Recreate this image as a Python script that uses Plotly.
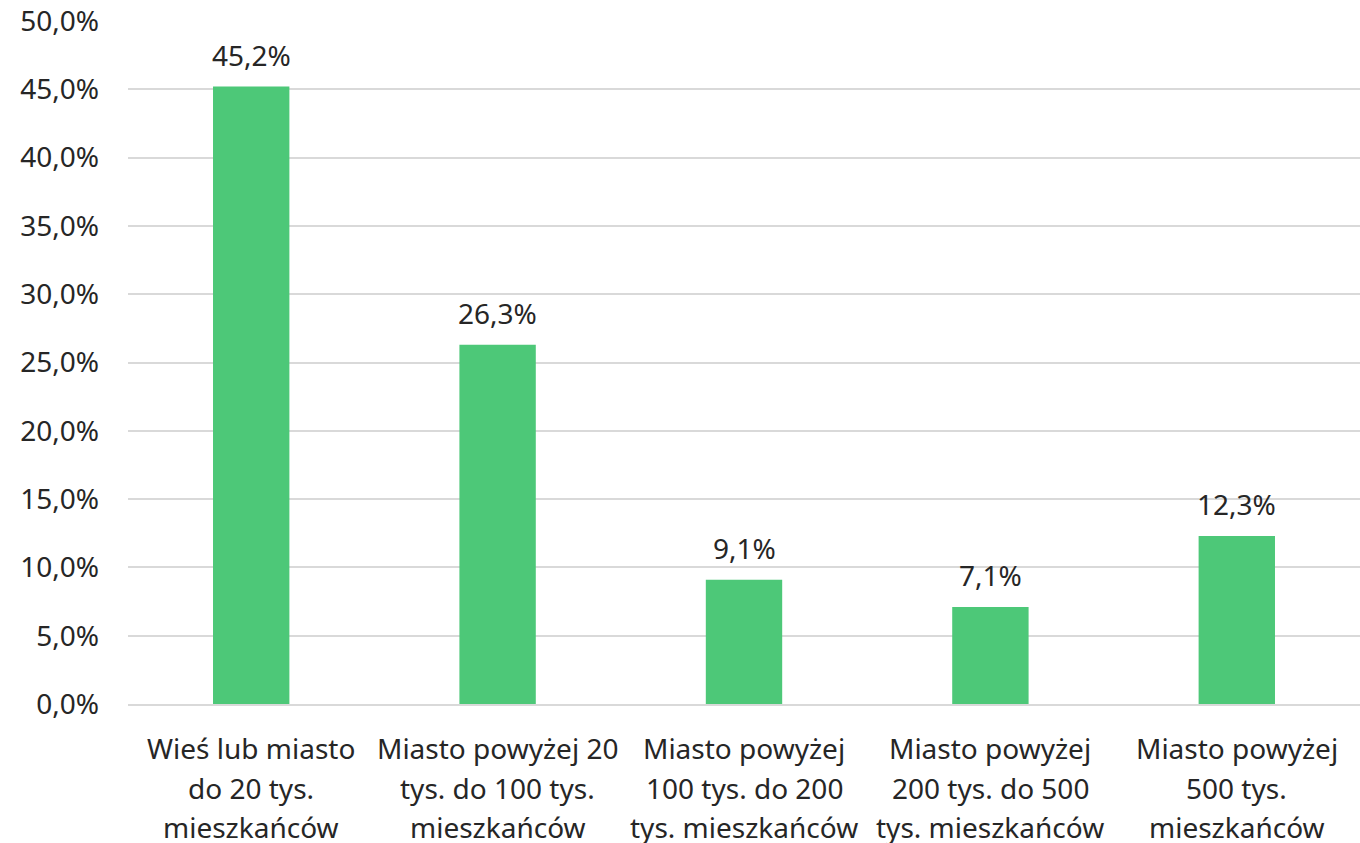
import plotly.graph_objects as go

categories = [
    "Wieś lub miasto<br>do 20 tys.<br>mieszkańców",
    "Miasto powyżej 20<br>tys. do 100 tys.<br>mieszkańców",
    "Miasto powyżej<br>100 tys. do 200<br>tys. mieszkańców",
    "Miasto powyżej<br>200 tys. do 500<br>tys. mieszkańców",
    "Miasto powyżej<br>500 tys.<br>mieszkańców",
]
values = [45.2, 26.3, 9.1, 7.1, 12.3]
y_ticks = [0, 5, 10, 15, 20, 25, 30, 35, 40, 45, 50]

FONT = "Noto Sans"
FS = 28
TXT = "#262626"

fig = go.Figure()
fig.add_trace(go.Bar(x=categories, y=values, marker_color="#4DC878",
                     marker_line_width=0, hoverinfo="skip"))

annotations = []
for c, v in zip(categories, values):
    annotations.append(dict(x=c, y=v, xref="x", yref="y", yanchor="middle",
                            yshift=32, showarrow=False,
                            text=f"{v:.1f}".replace(".", ",") + "%",
                            font=dict(family=FONT, size=FS, color=TXT)))
    for i, line in enumerate(c.split("<br>")):
        annotations.append(dict(x=c, y=0, xref="x", yref="y", yanchor="middle",
                                yshift=-(44 + 39.5 * i), showarrow=False,
                                text=line,
                                font=dict(family=FONT, size=FS, color=TXT)))

fig.update_layout(
    width=1360, height=843,
    margin=dict(l=128, r=0, t=21, b=139, autoexpand=False),
    paper_bgcolor="white", plot_bgcolor="white",
    separators=", ",
    bargap=0.69,
    showlegend=False,
    annotations=annotations,
    font=dict(family=FONT, size=FS, color=TXT),
    xaxis=dict(showticklabels=False, showgrid=False, showline=True,
               linecolor="#d9d9d9", linewidth=2, zeroline=False,
               automargin=False),
    yaxis=dict(range=[0, 50], tickvals=y_ticks,
               ticktext=[f"{t:.1f}".replace(".", ",") + "%" for t in y_ticks],
               showgrid=True, gridcolor="#d9d9d9", gridwidth=2,
               zeroline=False, showline=False, ticklabelstandoff=28,
               automargin=False,
               tickfont=dict(family=FONT, size=FS, color=TXT)),
)

fig.write_html("out.html", config={"displayModeBar": False},
               post_script="document.body.style.margin='0';document.body.style.overflow='hidden';")
